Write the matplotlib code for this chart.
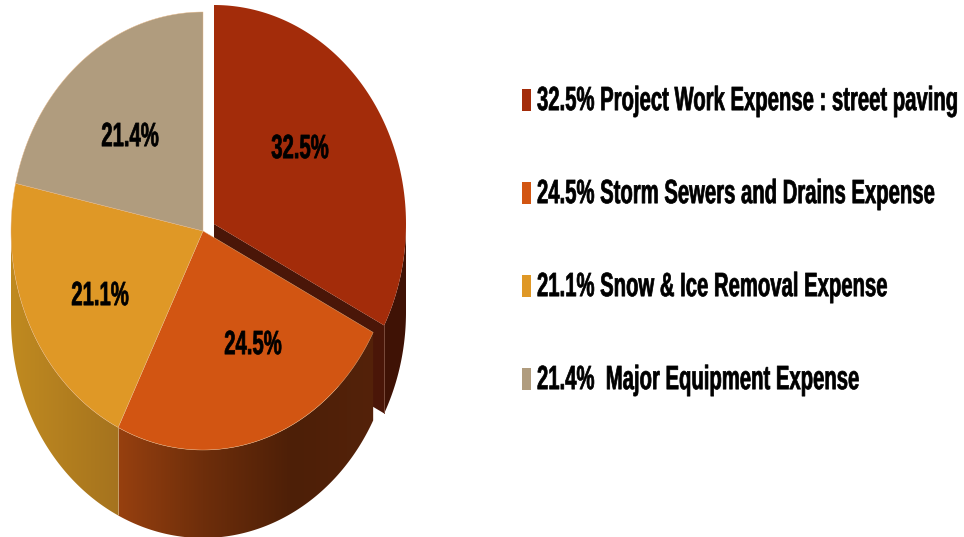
import numpy as np
import matplotlib
matplotlib.use("Agg")
import matplotlib.pyplot as plt
from matplotlib.patches import Polygon, Rectangle
from matplotlib.patheffects import AbstractPathEffect
from matplotlib.transforms import Affine2D
from matplotlib.colors import LinearSegmentedColormap

# ---- data ----
categories = ["Project Work Expense : street paving", "Storm Sewers and Drains Expense",
              "Snow & Ice Removal Expense", " Major Equipment Expense"]
shares = [32.5, 24.5, 21.1, 21.4]
colors = ["#A32C0A", "#D25512", "#DF9826", "#B09C7E"]

# ---- layout (pixel space) ----
CENTER = (203, 231)
EXPLODED = (214, 224)
RX, RY, DEPTH = 192, 219, 88
LABEL_XY = [(300, 149), (253, 345), (100, 296), (130, 137)]
LEGEND_Y = [101, 194, 287, 380]
FONT = ["Liberation Sans Narrow", "Liberation Sans"]
FS, STRETCH = 14.6, 1.66


class TallText(AbstractPathEffect):
    """Stretch glyphs vertically about the text's own anchor line and thicken them."""
    def __init__(self, y_from_top):
        super().__init__()
        self.y = 537 - y_from_top

    def draw_path(self, renderer, gc, tpath, affine, rgbFace=None):
        a = affine + Affine2D().translate(0, -self.y).scale(1, STRETCH).translate(0, self.y)
        gc0 = renderer.new_gc()
        gc0.copy_properties(gc)
        gc0.set_linewidth(0.5)
        gc0.set_foreground("#000000")
        renderer.draw_path(gc0, tpath, a, rgbFace)
        gc0.restore()


def arc(c, a0, a1, dy=0, n=120):
    t = np.radians(np.linspace(a0, a1, n))
    return np.column_stack([c[0] + RX * np.cos(t), c[1] - RY * np.sin(t) + dy])


def wall(c, a0, a1):
    return np.vstack([arc(c, a0, a1), arc(c, a1, a0, DEPTH)])


def grad_wall(ax, poly, x0, x1, stops, z):
    cmap = LinearSegmentedColormap.from_list("g", stops)
    im = ax.imshow(np.linspace(0, 1, 256)[None, :], extent=(x0, x1, 537, 0), cmap=cmap,
                   aspect="auto", zorder=z, interpolation="bilinear")
    p = Polygon(poly, closed=True, transform=ax.transData, fc="none", ec="none")
    ax.add_patch(p)
    im.set_clip_path(p)


fig = plt.figure(figsize=(9.64, 5.37), dpi=100)
ax = fig.add_axes([0, 0, 1, 1])

sweeps = np.array(shares) / sum(shares) * 360
ends = 90 - np.cumsum(sweeps)
starts = np.r_[90, ends[:-1]]

# exploded slice: cut face, outer wall, top
corner = arc(EXPLODED, ends[0], ends[0], n=1)[0]
cut = np.array([EXPLODED, corner, corner + [0, DEPTH], np.array(EXPLODED) + [0, DEPTH]])
ax.add_patch(Polygon(cut, fc="#4A1608", ec="none", zorder=1))
ax.add_patch(Polygon(wall(EXPLODED, 0, ends[0]), fc="#3F1205", ec="none", zorder=1))
ax.plot([corner[0]] * 2, [corner[1], corner[1] + DEPTH], color="#7A4A3A", lw=0.7, zorder=1.5)
ax.add_patch(Polygon(np.vstack([[EXPLODED], arc(EXPLODED, starts[0], ends[0])]),
                     fc=colors[0], ec="none", zorder=2))

# main body walls
xs = arc(CENTER, ends[1], ends[1], n=1)[0]
grad_wall(ax, wall(CENTER, ends[0], ends[1]), xs[0], 375,
          [(0, "#97400F"), (0.33, "#6E2E0B"), (0.68, "#4D1F07"), (1, "#54220A")], 3)
grad_wall(ax, wall(CENTER, ends[1], -180), 11, xs[0], ["#C08A20", "#A5731E"], 3)
ax.plot([xs[0]] * 2, [xs[1], xs[1] + DEPTH], color="#C7A06A", lw=0.7, zorder=3.5)

# main body tops
for i in (1, 2, 3):
    ax.add_patch(Polygon(np.vstack([[CENTER], arc(CENTER, starts[i], ends[i])]),
                         fc=colors[i], ec="#E8B888", lw=0.3, zorder=4))

# slice labels
for s, (x, y) in zip(shares, LABEL_XY):
    ax.text(x, y, f"{s:.1f}%", ha="center", va="center", family=FONT, weight="bold", fontsize=FS,
            color="#000000", zorder=6, path_effects=[TallText(y)])

# legend
for c, s, name, y in zip(colors, shares, categories, LEGEND_Y):
    ax.add_patch(Rectangle((522, y - 12), 9, 22, fc=c, ec="none", zorder=5))
    ax.text(537, y, f"{s:.1f}% {name}", ha="left", va="center", family=FONT, weight="bold",
            fontsize=FS, color="#000000", zorder=6, path_effects=[TallText(y)])

ax.set_xlim(0, 964)
ax.set_ylim(537, 0)
ax.axis("off")
fig.savefig("out.png", dpi=100, facecolor="white")
